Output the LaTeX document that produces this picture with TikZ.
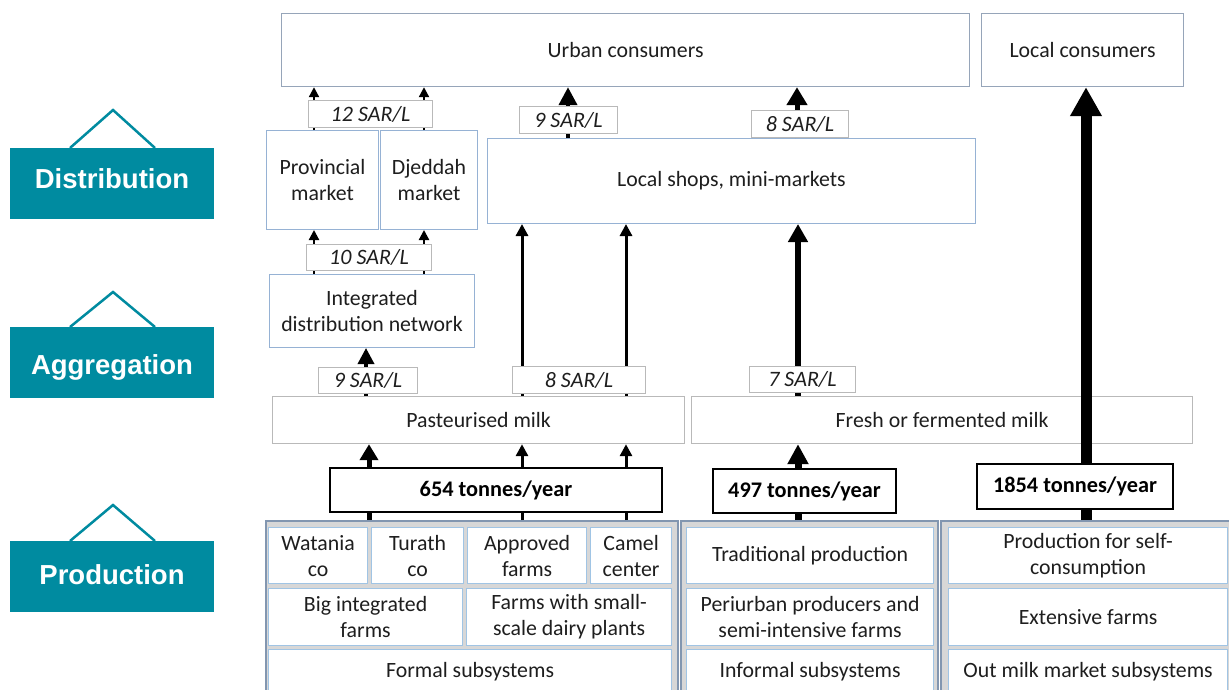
\documentclass[tikz,border=0pt]{standalone}
\usepackage{fontspec}
\setmainfont{Carlito}
\newfontfamily\tagfont{Liberation Sans}
\usetikzlibrary{arrows.meta}
\definecolor{tealc}{RGB}{0,139,160}
\definecolor{bluebd}{RGB}{150,178,212}
\definecolor{cellbd}{RGB}{160,196,228}
\definecolor{urbbd}{RGB}{150,165,185}
\definecolor{greybd}{RGB}{185,185,185}
\definecolor{framebd}{RGB}{130,150,176}
\definecolor{framefill}{RGB}{215,215,215}
\definecolor{txt}{RGB}{30,30,30}
\begin{document}
\begin{tikzpicture}[x=1pt,y=-1pt,
  base/.style={inner sep=0pt, anchor=north west, align=center, text=txt, font=\fontsize{21.8}{26}\selectfont},
  box/.style={base, draw=bluebd, line width=1pt, fill=white},
  topbox/.style={base, draw=urbbd, line width=1.2pt, fill=white},
  milkbox/.style={base, draw=greybd, line width=1.2pt, fill=white},
  price/.style={base, draw=greybd, line width=1pt, fill=white, font=\fontsize{22}{26}\selectfont\itshape},
  tonbox/.style={base, draw=black, line width=2pt, fill=white, text=black, font=\fontsize{22.3}{26}\selectfont\bfseries},
  frame/.style={base, draw=framebd, line width=1.5pt, fill=framefill},
  cell/.style={base, draw=cellbd, line width=1.2pt, fill=white},
  tagbox/.style={inner sep=0pt, anchor=north west, fill=tealc, draw=none},
  tagtext/.style={anchor=base, text=white, font=\tagfont\fontsize{27.5}{30}\selectfont\bfseries},
  tagroof/.style={draw=tealc, line width=2.5pt, line join=miter},
  arrT/.style={line width=2.2pt, -{Triangle[length=10pt,width=10pt]}},
  arrS/.style={line width=3pt, -{Triangle[length=12pt,width=12pt]}},
  arrP/.style={line width=5pt, -{Triangle[length=16pt,width=18pt]}},
  arrI/.style={line width=3.5pt, -{Triangle[length=16pt,width=16pt]}},
  arrM/.style={line width=4pt, -{Triangle[length=18pt,width=18pt]}},
  arrN/.style={line width=5pt, -{Triangle[length=18pt,width=20pt]}},
  arrF/.style={line width=7pt, -{Triangle[length=20pt,width=20pt]}},
  arrG/.style={line width=6pt, -{Triangle[length=18pt,width=19pt]}},
  arrO/.style={line width=11pt, -{Triangle[length=29pt,width=30pt]}}
]
\useasboundingbox (0,0) rectangle (1229,689);
\clip (0,0) rectangle (1229,689);
\fill[white] (0,0) rectangle (1229,689);

% stage tags
\draw[tagroof] (70,148) -- (113,110) -- (155,148);
\node[tagbox, minimum width=204pt, minimum height=71pt] (tagD) at (10,148) {};
\node[tagtext] (tagDt) at (112,188) {Distribution};
\draw[tagroof] (70,327) -- (113,292) -- (155,327);
\node[tagbox, minimum width=204pt, minimum height=71pt] (tagA) at (10,327) {};
\node[tagtext] (tagAt) at (112,374) {Aggregation};
\draw[tagroof] (70,541) -- (113,505) -- (155,541);
\node[tagbox, minimum width=204pt, minimum height=71pt] (tagP) at (10,541) {};
\node[tagtext] (tagPt) at (112,584) {Production};

% production frames
\node[frame, minimum width=412pt, minimum height=200pt] (fformal) at (265,520) {};
\node[frame, minimum width=257pt, minimum height=200pt] (finformal) at (680,520) {};
\node[frame, minimum width=300pt, minimum height=200pt] (fout) at (940,520) {};

% formal cells
\node[cell, minimum width=99pt, minimum height=56pt] (watania) at (268,527) {Watania\\co};
\node[cell, minimum width=92pt, minimum height=56pt] (turath) at (371,527) {Turath\\co};
\node[cell, minimum width=119pt, minimum height=56pt] (approved) at (467,527) {Approved\\farms};
\node[cell, minimum width=81pt, minimum height=56pt] (camel) at (590,527) {Camel\\center};
\node[cell, minimum width=194pt, minimum height=57pt] (bigint) at (268,588) {Big integrated\\farms};
\node[cell, minimum width=205pt, minimum height=57pt] (smallsc) at (466,588) {Farms with small-\\scale dairy plants};
\node[cell, minimum width=403pt, minimum height=44pt] (formalsub) at (268,649) {Formal subsystems};
% informal cells
\node[cell, minimum width=247pt, minimum height=56pt] (trad) at (686,527) {Traditional production};
\node[cell, minimum width=247pt, minimum height=57pt] (peri) at (686,588) {Periurban producers and\\semi-intensive farms};
\node[cell, minimum width=247pt, minimum height=44pt] (informalsub) at (686,649) {Informal subsystems};
% out-of-market cells
\node[cell, minimum width=279pt, minimum height=56pt] (selfc) at (948,527) {Production for self-\\consumption};
\node[cell, minimum width=279pt, minimum height=57pt] (extens) at (948,588) {Extensive farms};
\node[cell, minimum width=279pt, minimum height=44pt] (outsub) at (948,649) {Out milk market subsystems};

% main boxes
\node[topbox, minimum width=688pt, minimum height=73pt] (urban) at (281,13) {Urban consumers};
\node[topbox, minimum width=202pt, minimum height=73pt] (localc) at (981,13) {Local consumers};
\node[box, minimum width=112pt, minimum height=99pt] (prov) at (266,130) {Provincial\\market};
\node[box, minimum width=97pt, minimum height=99pt] (djed) at (380,130) {Djeddah\\market};
\node[box, minimum width=488pt, minimum height=85pt] (shops) at (487,138) {Local shops, mini-markets};
\node[box, minimum width=205pt, minimum height=73pt] (integ) at (269,274) {Integrated\\distribution network};
\node[milkbox, minimum width=412pt, minimum height=47pt] (past) at (272,396) {Pasteurised milk};
\node[milkbox, minimum width=501pt, minimum height=47pt] (fresh) at (691,396) {Fresh or fermented milk};

% flow abscissae
\coordinate (xA) at (369,0);
\coordinate (xB) at (522,0);
\coordinate (xC) at (626,0);
\coordinate (xD) at (366,0);
\coordinate (xL) at (314,0);
\coordinate (xR) at (424,0);
\coordinate (xU) at (568,0);
\coordinate (xV) at (797,0);
\coordinate (xF) at (798,0);
\coordinate (xO) at (1086,0);

% connectors
\draw[arrP] (fformal.north -| xA) -- (past.south -| xA);
\draw[arrS] (fformal.north -| xB) -- (past.south -| xB);
\draw[arrS] (fformal.north -| xC) -- (past.south -| xC);
\draw[arrI] (past.north -| xD) -- (integ.south -| xD);
\draw[arrT] (integ.north -| xL) -- (prov.south -| xL);
\draw[arrT] (integ.north -| xR) -- (djed.south -| xR);
\draw[arrT] (prov.north -| xL) -- (urban.south -| xL);
\draw[arrT] (djed.north -| xR) -- (urban.south -| xR);
\draw[arrS] (past.north -| xB) -- (shops.south -| xB);
\draw[arrS] (past.north -| xC) -- (shops.south -| xC);
\draw[arrM] (shops.north -| xU) -- (urban.south -| xU);
\draw[arrN] (shops.north -| xV) -- (urban.south -| xV);
\draw[arrF] (finformal.north -| xF) -- (fresh.south -| xF);
\draw[arrG] (fresh.north -| xF) -- (shops.south -| xF);
\draw[arrO] (fout.north -| xO) -- (localc.south -| xO);

% price labels
\node[price, minimum width=124pt, minimum height=27pt] (p12) at (308,100) {12 SAR/L};
\node[price, minimum width=125pt, minimum height=26pt] (p10) at (306,244) {10 SAR/L};
\node[price, minimum width=99pt, minimum height=26pt] (p9a) at (318,367) {9 SAR/L};
\node[price, minimum width=133pt, minimum height=27pt] (p8a) at (512,366) {8 SAR/L};
\node[price, minimum width=98pt, minimum height=27pt] (p9b) at (519,106) {9 SAR/L};
\node[price, minimum width=97pt, minimum height=27pt] (p8b) at (751,110) {8 SAR/L};
\node[price, minimum width=106pt, minimum height=26pt] (p7) at (749,366) {7 SAR/L};

% volume boxes
\node[tonbox, minimum width=332pt, minimum height=44pt] (t654) at (329,467) {654 tonnes/year};
\node[tonbox, minimum width=183pt, minimum height=44pt] (t497) at (712,468) {497 tonnes/year};
\node[tonbox, minimum width=196pt, minimum height=45pt] (t1854) at (976,463) {1854 tonnes/year};
\end{tikzpicture}
\end{document}
